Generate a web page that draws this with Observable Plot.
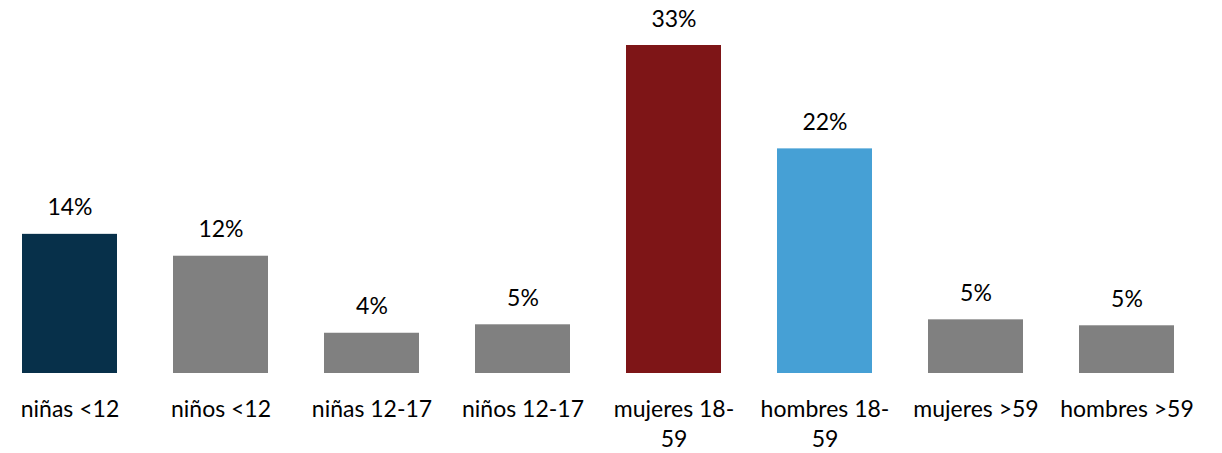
<!DOCTYPE html>
<html>
<head>
<meta charset="utf-8">
<script src="https://cdn.jsdelivr.net/npm/d3@7"></script>
<script src="https://cdn.jsdelivr.net/npm/@observablehq/plot@0.6"></script>
<style>
  html, body { margin: 0; padding: 0; background: #fff; }
  #chart { width: 1222px; height: 453px; overflow: hidden; }
</style>
</head>
<body>
<div id="chart"></div>
<script>
// Data
const categories = ["niñas <12", "niños <12", "niñas 12-17", "niños 12-17", "mujeres 18-59", "hombres 18-59", "mujeres >59", "hombres >59"];
const tickLabels = ["niñas <12", "niños <12", "niñas 12-17", "niños 12-17", "mujeres 18-\n59", "hombres 18-\n59", "mujeres >59", "hombres >59"];
const values = [14.0, 11.8, 4.05, 4.9, 33.0, 22.6, 5.4, 4.8];
const valueLabels = ["14%", "12%", "4%", "5%", "33%", "22%", "5%", "5%"];
const barColors = ["#07304A", "#808080", "#808080", "#808080", "#7E1517", "#46A0D5", "#808080", "#808080"];

const data = categories.map((c, i) => ({
  category: c,
  value: values[i],
  label: valueLabels[i],
  color: barColors[i],
  tick: tickLabels[i]
}));
const tickMap = new Map(data.map(d => [d.category, d.tick]));

const FONT = "Lato";
const FS = 23;

const chart = Plot.plot({
  width: 1222,
  height: 453,
  marginTop: 45,
  marginBottom: 80,
  marginLeft: 0,
  marginRight: 0,
  style: { fontFamily: FONT, fontSize: FS + "px", color: "#000", background: "#fff" },
  x: {
    type: "band",
    domain: categories,
    range: [-8.2, 1203],
    paddingInner: 0.373,
    paddingOuter: 0.1865,
    align: 0.5
  },
  y: { domain: [0, 33], axis: null },
  marks: [
    Plot.barY(data, { x: "category", y: "value", fill: "color" }),
    Plot.text(data, {
      x: "category",
      y: "value",
      text: "label",
      dy: -19,
      lineAnchor: "bottom",
      fontSize: FS,
      fill: "#000"
    }),
    Plot.axisX({
      tickSize: 0,
      tickPadding: 22,
      fontSize: FS,
      lineHeight: 1.32,
      tickFormat: d => tickMap.get(d),
      fill: "#000",
      label: null
    })
  ]
});

document.getElementById("chart").appendChild(chart);
</script>
</body>
</html>
